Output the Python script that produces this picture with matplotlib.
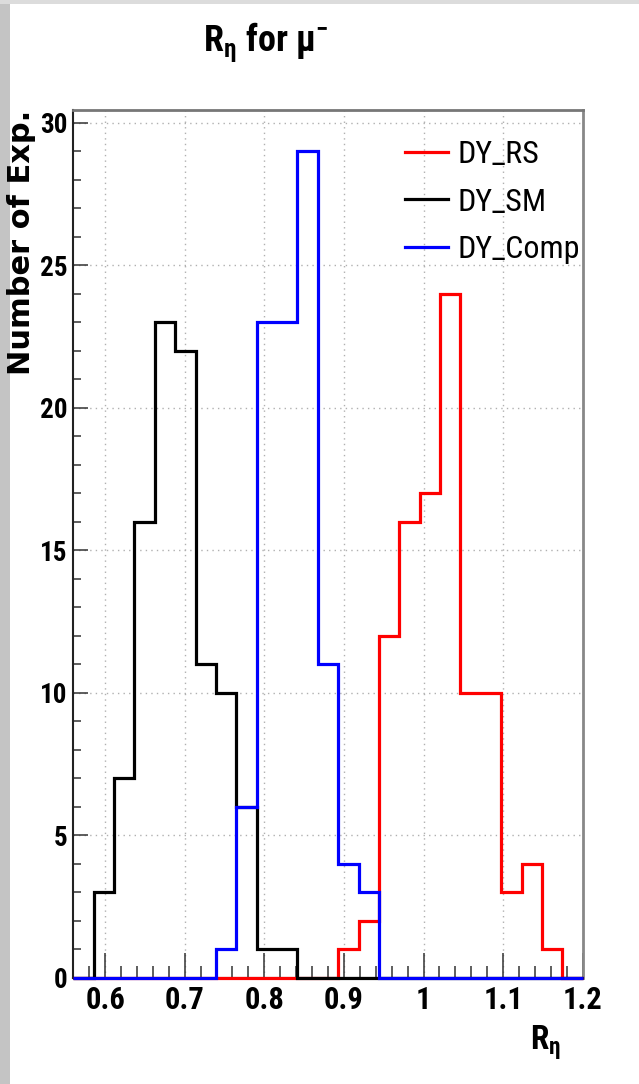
import numpy as np
import matplotlib
matplotlib.use("Agg")
import matplotlib.pyplot as plt
from matplotlib import font_manager
from matplotlib.ticker import MultipleLocator
from matplotlib.patches import Rectangle

# ---------------- data ----------------
x_min, x_max = 0.56, 1.2
n_bins = 25
series_names = ["DY_RS", "DY_SM", "DY_Comp"]
series_colors = ["#ff0000", "#000000", "#0000ff"]
counts_rs = [0, 0, 0, 0, 0, 0, 0, 0, 0, 0, 0, 0, 0, 1, 2, 12, 16, 17, 24, 10, 10, 3, 4, 1, 0]
counts_sm = [0, 3, 7, 16, 23, 22, 11, 10, 6, 1, 1, 0, 0, 0, 0, 0, 0, 0, 0, 0, 0, 0, 0, 0, 0]
counts_comp = [0, 0, 0, 0, 0, 0, 0, 1, 6, 23, 23, 29, 11, 4, 3, 0, 0, 0, 0, 0, 0, 0, 0, 0, 0]
x_ticks = [0.6, 0.7, 0.8, 0.9, 1.0, 1.1, 1.2]
x_tick_labels = ["0.6", "0.7", "0.8", "0.9", "1", "1.1", "1.2"]
y_ticks = [0, 5, 10, 15, 20, 25, 30]
y_tick_labels = ["0", "5", "10", "15", "20", "25", "30"]
title = r"R$_{\eta}$ for $\mu^{-}$"
x_label = r"R$_{\eta}$"
y_label = "Number of Exp."

# ---------------- font choice ----------------
available = {f.name for f in font_manager.fontManager.ttflist}
narrow = None
for cand in ["Liberation Sans Narrow", "DejaVu Sans Condensed", "Roboto Condensed",
             "Open Sans Condensed", "Liberation Sans"]:
    if cand in available:
        narrow = cand
        break
if narrow is None:
    narrow = "DejaVu Sans"
plt.rcParams["font.family"] = [narrow, "DejaVu Sans"]
plt.rcParams["mathtext.default"] = "regular"

W, H = 639, 1084
fig = plt.figure(figsize=(W / 100, H / 100), dpi=100)
fig.patch.set_facecolor("white")

# screenshot border strips
fig.patches.append(Rectangle((0, 0), 10 / W, 1, transform=fig.transFigure,
                             facecolor="#c4c4c4", edgecolor="none", zorder=0))
fig.patches.append(Rectangle((0, 1 - 4 / H), 1, 4 / H, transform=fig.transFigure,
                             facecolor="#dcdcdc", edgecolor="none", zorder=0))

ax_l, ax_r, ax_t, ax_b = 73.3, 582.7, 110, 978
ax = fig.add_axes([ax_l / W, 1 - ax_b / H, (ax_r - ax_l) / W, (ax_b - ax_t) / H])

edges = np.linspace(x_min, x_max, n_bins + 1)
for vals, name, col, z in zip([counts_rs, counts_sm, counts_comp], series_names,
                               series_colors, [3, 4, 5]):
    st = ax.stairs(vals, edges, baseline=0, color=col, lw=2.3, label=name, zorder=z)
    st.set_clip_on(False)

ax.set_xlim(x_min, x_max)
ax.set_ylim(0, 30.45)

ax.set_xticks(x_ticks)
ax.set_xticklabels(x_tick_labels)
ax.set_yticks(y_ticks)
ax.set_yticklabels(y_tick_labels)
ax.xaxis.set_minor_locator(MultipleLocator(0.02))
ax.yaxis.set_minor_locator(MultipleLocator(1))

ax.tick_params(axis="x", which="major", direction="in", length=18, width=1.1,
               color="#333333", labelsize=22, pad=5, top=False)
ax.tick_params(axis="x", which="minor", direction="in", length=9, width=1.1,
               color="#333333", top=False)
ax.tick_params(axis="y", which="major", direction="in", length=11, width=1.1,
               color="#333333", labelsize=19.5, pad=4, right=False)
ax.tick_params(axis="y", which="minor", direction="in", length=6, width=1.1,
               color="#333333", right=False)
for lbl in ax.get_xticklabels() + ax.get_yticklabels():
    lbl.set_fontweight("bold")

ax.grid(True, which="major", linestyle=(0, (1, 3)), color="#b0b0b0", lw=1.0, zorder=0)
ax.set_axisbelow(True)

ax.spines["left"].set_color("#222222")
ax.spines["left"].set_linewidth(1.5)
ax.spines["bottom"].set_color("#222222")
ax.spines["bottom"].set_linewidth(1.5)
ax.spines["top"].set_color("#777777")
ax.spines["top"].set_linewidth(2)
ax.spines["right"].set_color("#888888")
ax.spines["right"].set_linewidth(2)

# title
fig.text(266 / W, 1 - 51 / H, title, ha="center", va="baseline",
         fontsize=26, fontweight="bold")
# x label
ax.set_xlabel(x_label, fontsize=24, fontweight="bold", ha="right")
ax.xaxis.set_label_coords((561 - ax_l) / (ax_r - ax_l), -(1024 - ax_b) / (ax_b - ax_t))
ax.xaxis.label.set_va("top")
# y label
fig.text(22 / W, 1 - 110 / H, y_label, rotation=90, ha="center", va="top",
         fontsize=22, fontweight="bold", family=["DejaVu Sans"])

leg = ax.legend(loc="upper left", bbox_to_anchor=(405 / W, 1 - 140 / H),
                bbox_transform=fig.transFigure, frameon=False, fontsize=23,
                handlelength=1.35, handletextpad=0.3, labelspacing=0.58,
                borderpad=0, borderaxespad=0)
for h in leg.legend_handles:
    h.set_linewidth(2.3)

fig.savefig("out.png", dpi=100, facecolor="white")
